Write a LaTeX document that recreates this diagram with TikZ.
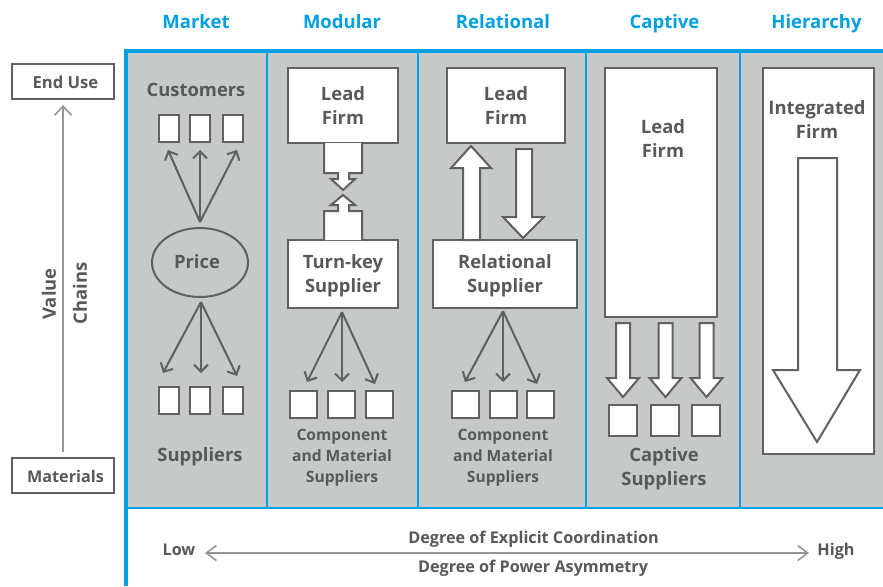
\documentclass[tikz,border=0pt]{standalone}
\usepackage{fontspec}
\setmainfont{Open Sans}
\usetikzlibrary{arrows.meta,calc,shapes.geometric}
\definecolor{txt}{RGB}{88,89,91}
\definecolor{edge}{RGB}{95,96,98}
\definecolor{panel}{RGB}{199,200,200}
\definecolor{frame}{RGB}{0,160,227}
\definecolor{axis}{RGB}{150,150,150}
\begin{document}
\begin{tikzpicture}[x=1pt,y=-1pt,
  box/.style={draw=edge,line width=2.2pt,fill=white,inner sep=0pt},
  smallbox/.style={box,line width=2pt},
  lbl/.style={text=txt,font=\bfseries\fontsize{18.4}{24}\selectfont,align=center,inner sep=0pt},
  sublbl/.style={text=txt,font=\bfseries\fontsize{15.6}{21}\selectfont,align=center,inner sep=0pt},
  axlbl/.style={text=txt,font=\bfseries\fontsize{16.2}{20}\selectfont,inner sep=0pt},
  head/.style={text=frame,font=\bfseries\fontsize{18.5}{22}\selectfont,inner sep=0pt,anchor=base},
  thinarr/.style={draw=edge,line width=2pt,-{Straight Barb[length=7pt,width=14pt,line width=2pt]}},
  blockarr/.style={draw=edge,line width=2pt,fill=white,line join=miter},
  axisarr/.style={draw=axis,line width=1.6pt},
  divider/.style={draw=frame,line width=2pt}
]
\useasboundingbox (0,0) rectangle (883,586);
\fill[white] (0,0) rectangle (883,586);
% panel
\fill[panel] (126,51) rectangle (883,508);
\foreach \xx in {267,418,586,740} \draw[divider] (\xx,52) -- (\xx,507);
\draw[frame,line width=2.5pt] (126,508) -- (883,508);
\draw[frame,line width=4pt] (126,586) -- (126,51) -- (883,51);

% headers
\node[head] (hMarket) at (196,29) {Market};
\node[head] (hModular) at (342,29) {Modular};
\node[head] (hRelational) at (503,29) {Relational};
\node[head] (hCaptive) at (664.5,29) {Captive};
\node[head] (hHierarchy) at (816.5,29) {Hierarchy};

% left axis
\node[box,minimum width=102pt,minimum height=35pt] (enduse) at (63,81.5) {};
\node[axlbl,font=\bfseries\fontsize{16.6}{20}\selectfont] (enduset) at (65.5,82) {End Use};
\node[box,minimum width=102pt,minimum height=35pt] (materials) at (63,475.4) {};
\node[axlbl] (materialst) at (65.5,476) {Materials};
\draw[axisarr,-{Straight Barb[length=9pt,width=17pt,line width=1.6pt]},shorten <=5pt,shorten >=5pt] (materials.north) -- (enduse.south);
\node[lbl,rotate=90] (value) at (49,294) {Value};
\node[lbl,rotate=90] (chains) at (80,293.5) {Chains};

% ---- Market
\node[lbl,anchor=base] (customers) at (196,96) {Customers};
\foreach \n/\xx in {c1/169,c2/199.5,c3/232.5}
  \node[smallbox,minimum width=20pt,minimum height=27pt] (\n) at (\xx,128.5) {};
\node[ellipse,draw=edge,line width=2pt,minimum width=96pt,minimum height=69pt,inner sep=0pt] (price) at (200,262.5) {};
\node[lbl,anchor=base] (pricet) at (197,268) {Price};
\coordinate (ptop) at (200,222);
\coordinate (pbot) at (201,302);
\coordinate (ut1) at (168,150);
\coordinate (ut2) at (200,150);
\coordinate (ut3) at (237,150);
\foreach \t in {ut1,ut2,ut3} \draw[thinarr] (ptop) -- (\t);
\foreach \n/\xx in {s1/169,s2/199.5,s3/232.5}
  \node[smallbox,minimum width=20pt,minimum height=27pt] (\n) at (\xx,400.5) {};
\coordinate (lt1) at (163,373);
\coordinate (lt2) at (201,373);
\coordinate (lt3) at (237,376);
\foreach \t in {lt1,lt2,lt3} \draw[thinarr] (pbot) -- (\t);
\node[lbl,anchor=base] (suppliers) at (200,461) {Suppliers};

% ---- Modular
\node[box,minimum width=110pt,minimum height=75pt] (lfM) at (343,105.5) {};
\node[lbl] (lfMt) at (343,105.5) {Lead\\Firm};
\node[box,minimum width=110pt,minimum height=68pt] (tkM) at (343,274) {};
\node[lbl] (tkMt) at (343,276) {Turn-key\\Supplier};
\draw[blockarr] (324,143) -- (324,173) -- (338,173) -- (338,179) -- (331,179) -- (343,190) -- (355,179) -- (349,179) -- (349,173) -- (362,173) -- (362,143);
\draw[blockarr] (324,240) -- (324,211) -- (338,211) -- (338,205) -- (331,205) -- (343,195) -- (355,205) -- (349,205) -- (349,211) -- (362,211) -- (362,240);
\foreach \n/\xx in {m1/303.5,m2/341.5,m3/379}
  \node[smallbox,minimum width=27pt,minimum height=27pt] (\n) at (\xx,404.5) {};
\coordinate (mtop) at (342,312);
\coordinate (mt1) at (307,382);
\coordinate (mt2) at (342,382);
\coordinate (mt3) at (375,384);
\foreach \t in {mt1,mt2,mt3} \draw[thinarr] (mtop) -- (\t);
\node[sublbl] (compM) at (342,457.5) {Component\\and Material\\Suppliers};

% ---- Relational
\node[box,minimum width=118pt,minimum height=75pt] (lfR) at (506,105.5) {};
\node[lbl] (lfRt) at (506,105.5) {Lead\\Firm};
\node[box,minimum width=144pt,minimum height=68pt] (rsR) at (505,274) {};
\node[lbl] (rsRt) at (505,276) {Relational\\Supplier};
\draw[blockarr] (463,240) -- (463,168) -- (451,168) -- (471,146) -- (491,168) -- (480,168) -- (480,240) -- cycle;
\draw[blockarr] (516,149) -- (516,217) -- (503,217) -- (523,238) -- (544,217) -- (532,217) -- (532,149) -- cycle;
\foreach \n/\xx in {r1/465.5,r2/503,r3/540.5}
  \node[smallbox,minimum width=27pt,minimum height=27pt] (\n) at (\xx,404.5) {};
\coordinate (rtop) at (503,311);
\coordinate (rt1) at (465,382);
\coordinate (rt2) at (503,382);
\coordinate (rt3) at (537,384);
\foreach \t in {rt1,rt2,rt3} \draw[thinarr] (rtop) -- (\t);
\node[sublbl] (compR) at (503,457.5) {Component\\and Material\\Suppliers};

% ---- Captive
\node[box,minimum width=112pt,minimum height=249pt] (lfC) at (661,192.5) {};
\node[lbl] (lfCt) at (663,138.5) {Lead\\Firm};
\foreach \cx in {623,665.5,706.5}
  \draw[blockarr] (\cx-7,323) -- (\cx-7,378) -- (\cx-16,378) -- (\cx,397) -- (\cx+16,378) -- (\cx+7,378) -- (\cx+7,323) -- cycle;
\foreach \n/\xx in {cp1/623,cp2/664.5,cp3/705.5}
  \node[smallbox,minimum width=28pt,minimum height=31pt] (\n) at (\xx,420.5) {};
\node[lbl] (captsup) at (664,469) {Captive\\Suppliers};

% ---- Hierarchy
\node[box,minimum width=111pt,minimum height=386pt] (ifH) at (818.5,261) {};
\node[lbl] (ifHt) at (817,120) {Integrated\\Firm};
\draw[blockarr] (798,158) -- (798,370) -- (773,370) -- (817,442) -- (860,370) -- (837,370) -- (837,158) -- cycle;

% ---- bottom axis
\node[axlbl,anchor=base] (coord) at (533.5,543.3) {Degree of Explicit Coordination};
\node[axlbl,anchor=base] (power) at (533,572) {Degree of Power Asymmetry};
\node[axlbl,anchor=base] (low) at (179,555.5) {Low};
\node[axlbl,anchor=base] (high) at (836,555.5) {High};
\coordinate (lowend) at (205,553);
\coordinate (highend) at (809,553);
\draw[axisarr,{Straight Barb[length=10pt,width=15pt,line width=1.6pt]}-{Straight Barb[length=10pt,width=15pt,line width=1.6pt]}] (lowend) -- (highend);
\end{tikzpicture}
\end{document}
